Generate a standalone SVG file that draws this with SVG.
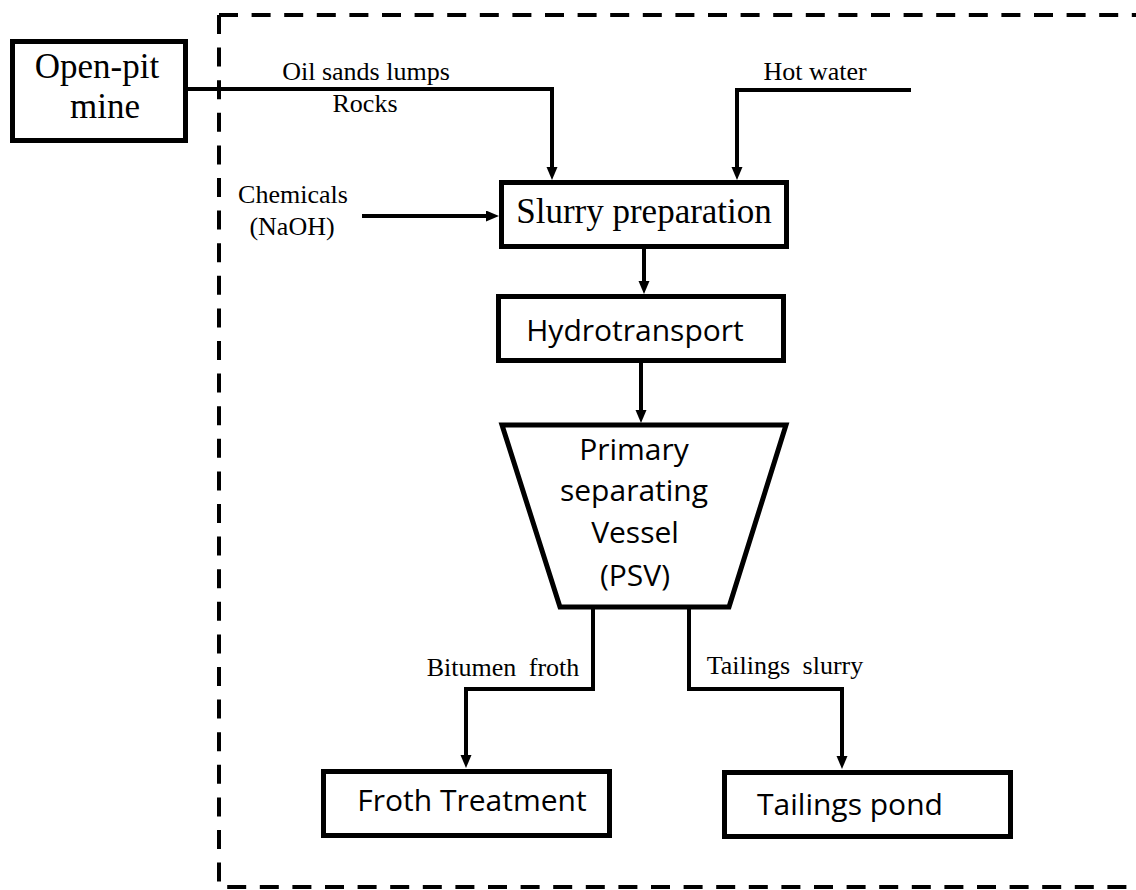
<svg xmlns="http://www.w3.org/2000/svg" width="1136" height="890" viewBox="0 0 1136 890">
<style>
.box{fill:#fff;stroke:#000;stroke-width:5}
.ln{fill:none;stroke:#000;stroke-width:4;marker-end:url(#ah)}
.dash{fill:none;stroke:#000;stroke-width:4;stroke-dasharray:19 13.6}
.serif{font-family:"Liberation Serif","Times New Roman",serif;fill:#000}
.sans{font-family:"Open Sans","Liberation Sans",sans-serif;fill:#000;font-size:30px}
.lbl{font-size:26px}
</style>
<defs>
<marker id="ah" markerUnits="userSpaceOnUse" markerWidth="14" markerHeight="12" refX="3" refY="5.5" orient="auto">
<path d="M0,0 L13,5.5 L0,11 z" fill="#000"/>
</marker>
</defs>
<rect width="1136" height="890" fill="#fff"/>
<g id="boundary">
<path class="dash" d="M219,15 H1140"/>
<path class="dash" d="M219,15 V887 H1140"/>
</g>
<g id="connectors">
<path class="ln" d="M188,89 H552 V170"/>
<path class="ln" d="M911,90 H737 V170"/>
<path class="ln" d="M362,216 H489"/>
<path class="ln" d="M644,249 V284"/>
<path class="ln" d="M641,363 V413"/>
<path class="ln" d="M593,607 V689 H466 V758"/>
<path class="ln" d="M689,607 V689 H842 V759"/>
</g>
<g id="labels" class="serif lbl" text-anchor="middle">
<text x="366" y="80">Oil sands lumps</text>
<text x="365" y="112">Rocks</text>
<text x="815" y="80">Hot water</text>
<text x="293" y="203">Chemicals</text>
<text x="292" y="235">(NaOH)</text>
<text x="503" y="676" word-spacing="6">Bitumen froth</text>
<text x="785" y="674" word-spacing="6">Tailings slurry</text>
</g>
<g id="open-pit-mine">
<rect class="box" x="12.5" y="41.5" width="173" height="99"/>
<text class="serif" font-size="35" text-anchor="middle" x="97" y="78">Open-pit</text>
<text class="serif" font-size="35" text-anchor="middle" x="105" y="118">mine</text>
</g>
<g id="slurry-preparation">
<rect class="box" x="501.5" y="182.5" width="285" height="64"/>
<text class="serif" font-size="35" text-anchor="middle" x="644" y="223">Slurry preparation</text>
</g>
<g id="hydrotransport">
<rect class="box" x="498.5" y="296.5" width="285" height="64"/>
<text class="sans" text-anchor="middle" x="635" y="341">Hydrotransport</text>
</g>
<g id="psv">
<polygon class="box" points="502,425 786,425 729,607 560,607"/>
<text class="sans" text-anchor="middle" x="634" y="460">Primary</text>
<text class="sans" text-anchor="middle" x="634" y="501">separating</text>
<text class="sans" text-anchor="middle" x="635" y="543">Vessel</text>
<text class="sans" text-anchor="middle" x="635" y="586">(PSV)</text>
</g>
<g id="froth-treatment">
<rect class="box" x="323.5" y="771.5" width="286" height="64"/>
<text class="sans" text-anchor="middle" x="472" y="811">Froth Treatment</text>
</g>
<g id="tailings-pond">
<rect class="box" x="724.5" y="772.5" width="286" height="64"/>
<text class="sans" text-anchor="middle" x="850" y="815">Tailings pond</text>
</g>
</svg>
